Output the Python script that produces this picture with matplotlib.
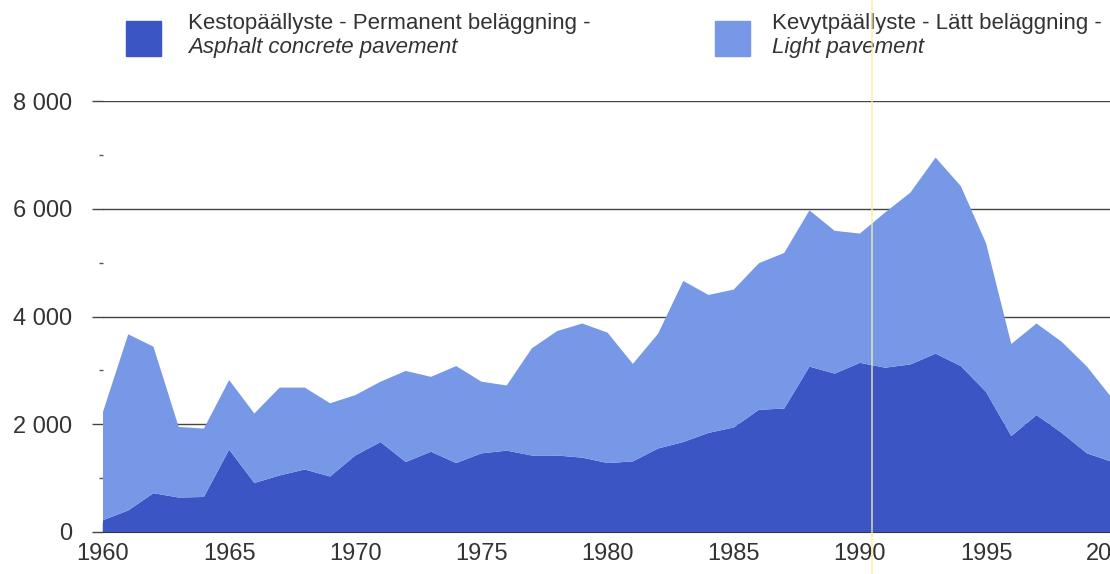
import numpy as np
import matplotlib
matplotlib.use("Agg")
import matplotlib.pyplot as plt
from matplotlib.patches import Rectangle

years = list(range(1960, 2001))
asphalt = [220, 400, 720, 640, 650, 1530, 910, 1050, 1160, 1030,
           1420, 1670, 1300, 1490, 1280, 1460, 1510, 1420, 1420, 1380,
           1280, 1310, 1550, 1670, 1840, 1940, 2270, 2290, 3070, 2940,
           3140, 3050, 3110, 3310, 3080, 2600, 1780, 2170, 1840, 1460, 1300]
light = [2010, 3270, 2720, 1310, 1270, 1290, 1290, 1630, 1520, 1360,
         1120, 1120, 1690, 1390, 1800, 1330, 1210, 1990, 2310, 2490,
         2420, 1810, 2130, 2990, 2560, 2560, 2720, 2890, 2900, 2650,
         2400, 2880, 3190, 3640, 3340, 2760, 1710, 1700, 1690, 1610, 1180]
y_ticks = [0, 2000, 4000, 6000, 8000]
y_labels = ["0", "2 000", "4 000", "6 000", "8 000"]
x_ticks = [1960, 1965, 1970, 1975, 1980, 1985, 1990, 1995, 2000]
legend_fi = ["Kestopäällyste - Permanent beläggning -", "Kevytpäällyste - Lätt beläggning -"]
legend_en = ["Asphalt concrete pavement", "Light pavement"]

dark_col = "#3b55c5"
light_col = "#7797e7"
text_col = "#333333"

plt.rcParams['font.family'] = ['Liberation Sans', 'DejaVu Sans']

W, H = 1110, 574
fig = plt.figure(figsize=(W / 100, H / 100), dpi=100)
ax = fig.add_axes([103 / W, (H - 532) / H, 1 - 103 / W + 0.002, (532 - 101) / H])

ax.stackplot(years, asphalt, light, colors=[dark_col, light_col], zorder=2)

ax.set_xlim(1960, 2000)
ax.set_ylim(0, 8000)

for v in y_ticks[1:]:
    ax.axhline(v, color="#444444", lw=1.0, zorder=1)

ax.set_yticks(y_ticks)
ax.set_yticklabels(y_labels)
ax.set_yticks([1000, 3000, 5000, 7000], minor=True)
ax.tick_params(axis="y", which="major", length=8, width=1, color="#444444",
               labelsize=17, labelcolor=text_col, pad=14)
ax.tick_params(axis="y", which="minor", length=3, width=1, color="#555555")

ax.set_xticks(x_ticks)
ax.tick_params(axis="x", which="major", direction="in", length=7, width=1,
               color="#222244", labelsize=17, labelcolor=text_col, pad=8)

for s in ["top", "right", "left"]:
    ax.spines[s].set_visible(False)
ax.spines["bottom"].set_color("#333344")
ax.spines["bottom"].set_zorder(3)
for t in ax.xaxis.get_major_ticks():
    t.tick1line.set_zorder(4)

# legend drawn by hand
squares = [(126, 188, dark_col), (715, 772, light_col)]
for i, (px, tx, col) in enumerate(squares):
    fig.patches.append(Rectangle((px / W, 1 - 56 / H), 35 / W, 35 / H,
                                 transform=fig.transFigure, color=col))
    fig.text(tx / W, 1 - 24 / H, legend_fi[i], fontsize=16,
             color=text_col, va="center", ha="left")
    fig.text(tx / W, 1 - 48 / H, legend_en[i], fontsize=16,
             color=text_col, va="center", ha="left", style="italic")

# faint vertical scan line
fig.add_artist(plt.Line2D([872 / W, 872 / W], [0, 1], transform=fig.transFigure,
                          color="#f4f0a0", lw=1.2, alpha=0.8, zorder=10))

fig.savefig("out.png", dpi=100)
